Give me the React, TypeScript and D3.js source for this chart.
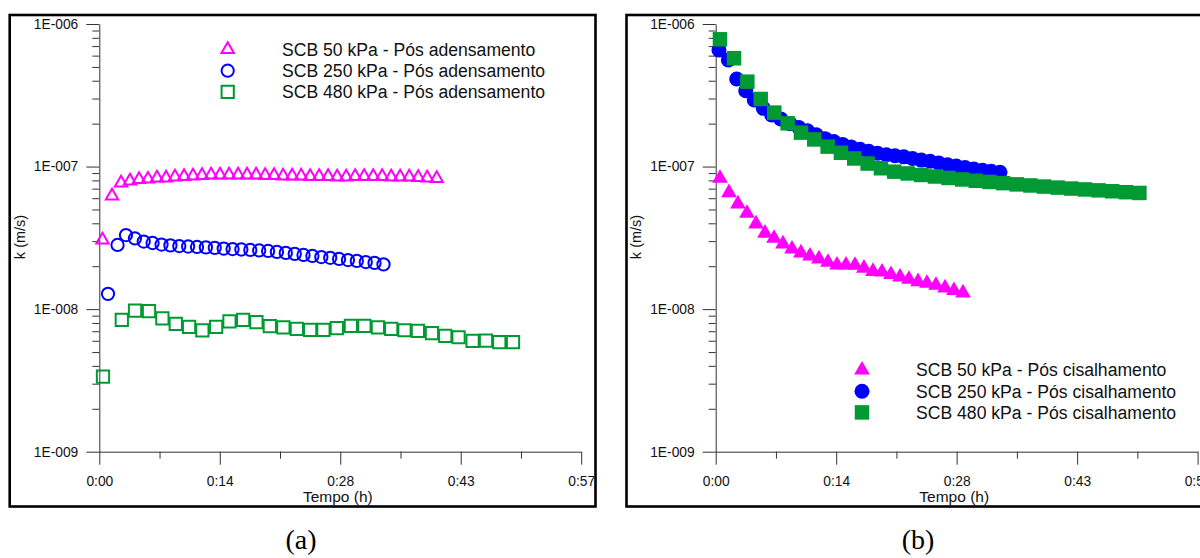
import React, { useEffect, useRef } from 'react';
import * as d3 from 'd3';

// tempo em minutos, k em m/s

// (a) pós adensamento
const adens50T = [0.38, 1.52, 2.6, 3.67, 4.75, 5.82, 6.9, 7.98, 9.05, 10.13, 11.2, 12.28, 13.36, 14.43, 15.51, 16.59, 17.66, 18.74, 19.82, 20.89, 21.97, 23.05, 24.12, 25.2, 26.28, 27.35, 28.43, 29.51, 30.58, 31.66, 32.74, 33.81, 34.89, 35.96, 37.04, 38.12, 39.19, 40.33];
const adens50K = [3.06e-8, 6.22e-8, 7.67e-8, 7.93e-8, 8.12e-8, 8.18e-8, 8.32e-8, 8.32e-8, 8.46e-8, 8.52e-8, 8.59e-8, 8.66e-8, 8.73e-8, 8.73e-8, 8.73e-8, 8.73e-8, 8.73e-8, 8.73e-8, 8.66e-8, 8.66e-8, 8.59e-8, 8.59e-8, 8.59e-8, 8.52e-8, 8.52e-8, 8.52e-8, 8.46e-8, 8.46e-8, 8.52e-8, 8.52e-8, 8.52e-8, 8.52e-8, 8.46e-8, 8.46e-8, 8.46e-8, 8.39e-8, 8.32e-8, 8.25e-8];

const adens250T = [1.04, 2.18, 3.19, 4.26, 5.31, 6.37, 7.44, 8.5, 9.56, 10.62, 11.68, 12.74, 13.8, 14.87, 15.93, 16.98, 18.05, 19.11, 20.18, 21.23, 22.29, 23.36, 24.41, 25.47, 26.54, 27.6, 28.66, 29.72, 30.78, 31.85, 32.9, 33.97];
const adens250K = [1.28e-8, 2.82e-8, 3.31e-8, 3.13e-8, 2.98e-8, 2.91e-8, 2.84e-8, 2.8e-8, 2.77e-8, 2.75e-8, 2.73e-8, 2.71e-8, 2.69e-8, 2.66e-8, 2.64e-8, 2.62e-8, 2.6e-8, 2.58e-8, 2.56e-8, 2.52e-8, 2.48e-8, 2.44e-8, 2.4e-8, 2.36e-8, 2.32e-8, 2.29e-8, 2.25e-8, 2.21e-8, 2.18e-8, 2.14e-8, 2.11e-8, 2.06e-8];

const adens480T = [0.44, 2.69, 4.27, 5.94, 7.54, 9.14, 10.73, 12.32, 13.96, 15.56, 17.19, 18.78, 20.38, 22.0, 23.61, 25.2, 26.79, 28.39, 30.07, 31.69, 33.3, 34.89, 36.48, 38.08, 39.76, 41.35, 42.94, 44.62, 46.22, 47.81, 49.45];
const adens480K = [3.36e-9, 8.4e-9, 9.75e-9, 9.7e-9, 8.6e-9, 7.87e-9, 7.5e-9, 7.1e-9, 7.5e-9, 8.2e-9, 8.4e-9, 8.1e-9, 7.6e-9, 7.46e-9, 7.26e-9, 7.14e-9, 7.14e-9, 7.35e-9, 7.62e-9, 7.62e-9, 7.46e-9, 7.26e-9, 7.11e-9, 7.03e-9, 6.78e-9, 6.49e-9, 6.35e-9, 5.98e-9, 6.01e-9, 5.86e-9, 5.86e-9];

// (b) pós cisalhamento
const cis50T = [0.51, 1.59, 2.66, 3.74, 4.82, 5.89, 6.97, 8.04, 9.12, 10.19, 11.27, 12.34, 13.42, 14.5, 15.57, 16.65, 17.72, 18.8, 19.88, 20.95, 22.03, 23.1, 24.18, 25.25, 26.33, 27.41, 28.48, 29.56];
const cis50K = [8.28e-8, 6.56e-8, 5.47e-8, 4.7e-8, 3.96e-8, 3.41e-8, 3.14e-8, 2.87e-8, 2.64e-8, 2.48e-8, 2.36e-8, 2.25e-8, 2.13e-8, 2.04e-8, 2.04e-8, 2.03e-8, 1.94e-8, 1.84e-8, 1.82e-8, 1.75e-8, 1.68e-8, 1.62e-8, 1.56e-8, 1.52e-8, 1.47e-8, 1.41e-8, 1.35e-8, 1.3e-8];

const cis250T = [0.39, 1.51, 2.51, 3.59, 4.61, 5.69, 6.69, 7.77, 8.88, 9.93, 10.97, 12.02, 13.06, 14.11, 15.16, 16.2, 17.25, 18.29, 19.34, 20.39, 21.43, 22.48, 23.52, 24.57, 25.62, 26.66, 27.71, 28.75, 29.8, 30.85, 31.89, 32.94, 33.98];
const cis250K = [6.57e-7, 5.59e-7, 4.11e-7, 3.4e-7, 2.93e-7, 2.56e-7, 2.3e-7, 2.16e-7, 2.0e-7, 1.88e-7, 1.78e-7, 1.67e-7, 1.57e-7, 1.5e-7, 1.43e-7, 1.37e-7, 1.32e-7, 1.28e-7, 1.24e-7, 1.21e-7, 1.19e-7, 1.17e-7, 1.14e-7, 1.11e-7, 1.09e-7, 1.06e-7, 1.03e-7, 1.01e-7, 9.86e-8, 9.62e-8, 9.44e-8, 9.28e-8, 9.12e-8];

const cis480T = [0.51, 2.19, 3.78, 5.38, 7.0, 8.6, 10.19, 11.78, 13.38, 14.97, 16.56, 18.16, 19.75, 21.34, 22.94, 24.57, 26.21, 27.83, 29.46, 31.09, 32.72, 34.36, 35.98, 37.61, 39.24, 40.87, 42.51, 44.13, 45.76, 47.39, 49.02, 50.64];
const cis480K = [7.81e-7, 5.75e-7, 3.94e-7, 2.98e-7, 2.39e-7, 2.01e-7, 1.73e-7, 1.55e-7, 1.38e-7, 1.25e-7, 1.14e-7, 1.05e-7, 9.73e-8, 9.21e-8, 8.95e-8, 8.73e-8, 8.52e-8, 8.32e-8, 8.12e-8, 7.95e-8, 7.8e-8, 7.65e-8, 7.5e-8, 7.37e-8, 7.24e-8, 7.12e-8, 7.01e-8, 6.91e-8, 6.81e-8, 6.71e-8, 6.61e-8, 6.53e-8];

const xMajor = [0, 14.4, 28.8, 43.2, 57.6];
const xMajorLabels = ['0:00', '0:14', '0:28', '0:43', '0:57'];
const xMinor = [7.2, 21.6, 36, 50.4];
const yMajor = [1e-9, 1e-8, 1e-7, 1e-6];
const yMajorLabels = ['1E-009', '1E-008', '1E-007', '1E-006'];

const legendA = ['SCB 50 kPa - Pós adensamento', 'SCB 250 kPa - Pós adensamento', 'SCB 480 kPa - Pós adensamento'];
const legendB = ['SCB 50 kPa - Pós cisalhamento', 'SCB 250 kPa - Pós cisalhamento', 'SCB 480 kPa - Pós cisalhamento'];
const colors = ['#ff00ff', '#0000ff', '#009933'];
const symbols = [d3.symbolTriangle, d3.symbolCircle, d3.symbolSquare];

const FONT = '"Liberation Sans", Arial, sans-serif';

const panels = [
  {
    name: '(a)', cx: 301, fx: 9.7, fw: 585.8, x0: 99.3,
    lx: 227.7, tx: 282, ly: 49.5, filled: false,
    legend: legendA,
    series: [[adens50T, adens50K], [adens250T, adens250K], [adens480T, adens480K]],
  },
  {
    name: '(b)', cx: 918, fx: 626.5, fw: 620, x0: 715.7,
    lx: 862, tx: 916, ly: 370, filled: true,
    legend: legendB,
    series: [[cis50T, cis50K], [cis250T, cis250K], [cis480T, cis480K]],
  },
];

function drawPanel(svg: any, p: any) {
  const x = d3.scaleLinear().domain([0, 57.6]).range([p.x0, p.x0 + 481.9]);
  const y = d3.scaleLog().domain([1e-9, 1e-6]).range([451.7, 24]);

  svg.append('rect')
    .attr('x', p.fx).attr('y', 15)
    .attr('width', p.fw).attr('height', 491.5)
    .attr('fill', 'none').attr('stroke', '#000').attr('stroke-width', 2.6);

  const yMinor = y.ticks().filter(v => Math.abs(Math.log10(v) - Math.round(Math.log10(v))) > 1e-6);

  const style = (g: any) => {
    g.attr('color', '#333').attr('font-family', FONT).attr('font-size', 13.8);
    g.selectAll('text').attr('fill', '#111');
  };

  svg.append('g')
    .attr('transform', `translate(${p.x0},0)`)
    .call(d3.axisLeft(y).tickValues(yMinor).tickSize(7).tickSizeOuter(0).tickFormat(() => ''))
    .call(style)
    .call((g: any) => g.select('.domain').remove());

  svg.append('g')
    .attr('transform', `translate(${p.x0},0)`)
    .call(d3.axisLeft(y).tickValues(yMajor).tickSize(13).tickSizeOuter(0).tickPadding(8)
      .tickFormat((d: any, i: number) => yMajorLabels[i]))
    .call(style);

  svg.append('g')
    .attr('transform', `translate(0,451.7)`)
    .call(d3.axisBottom(x).tickValues(xMinor).tickSize(7).tickSizeOuter(0).tickFormat(() => ''))
    .call(style)
    .call((g: any) => g.select('.domain').remove());

  svg.append('g')
    .attr('transform', `translate(0,451.7)`)
    .call(d3.axisBottom(x).tickValues(xMajor).tickSize(13).tickSizeOuter(0).tickPadding(11.3)
      .tickFormat((d: any, i: number) => xMajorLabels[i]))
    .call(style);

  svg.append('text')
    .attr('x', p.x0 + 238.5).attr('y', 501.5)
    .attr('text-anchor', 'middle')
    .attr('font-family', FONT).attr('font-size', 15.5).attr('fill', '#111')
    .text('Tempo (h)');

  svg.append('text')
    .attr('transform', `translate(${p.x0 - 74.5},237) rotate(-90)`)
    .attr('text-anchor', 'middle')
    .attr('font-family', FONT).attr('font-size', 14.5).attr('fill', '#111')
    .text('k (m/s)');

  const sizes = p.filled ? [107, 177, 210] : [66, 118, 150];

  const paint = (sel: any, i: number) => {
    if (p.filled) {
      sel.attr('fill', colors[i]).attr('stroke', 'none');
    } else {
      sel.attr('fill', 'none').attr('stroke', colors[i]).attr('stroke-width', 2);
    }
  };

  p.series.forEach(([t, k]: any, i: number) => {
    const pts = d3.zip(t, k);
    svg.append('g')
      .selectAll('path')
      .data(pts)
      .join('path')
      .attr('transform', (d: any) => `translate(${x(d[0])},${y(d[1])})`)
      .attr('d', d3.symbol(symbols[i], sizes[i])())
      .call(paint, i);
  });

  p.legend.forEach((label: string, i: number) => {
    const cy = p.ly + i * 21.2;
    svg.append('path')
      .attr('transform', `translate(${p.lx},${cy})`)
      .attr('d', d3.symbol(symbols[i], sizes[i])())
      .call(paint, i);
    svg.append('text')
      .attr('x', p.tx).attr('y', cy + 6.3)
      .attr('font-family', FONT).attr('font-size', 17.6).attr('fill', '#111')
      .text(label);
  });

  svg.append('text')
    .attr('x', p.cx).attr('y', 549)
    .attr('text-anchor', 'middle')
    .attr('font-family', '"Liberation Serif", "Times New Roman", serif')
    .attr('font-size', 28).attr('fill', '#000')
    .text(p.name);
}

export default function App() {
  const ref = useRef<SVGSVGElement>(null);

  useEffect(() => {
    const svg = d3.select(ref.current);
    svg.selectAll('*').remove();
    panels.forEach(p => drawPanel(svg, p));
  }, []);

  return (
    <div style={{ position: 'absolute', left: 0, top: 0 }}>
      <svg ref={ref} width={1200} height={558} style={{ display: 'block', background: '#fff' }} />
    </div>
  );
}
